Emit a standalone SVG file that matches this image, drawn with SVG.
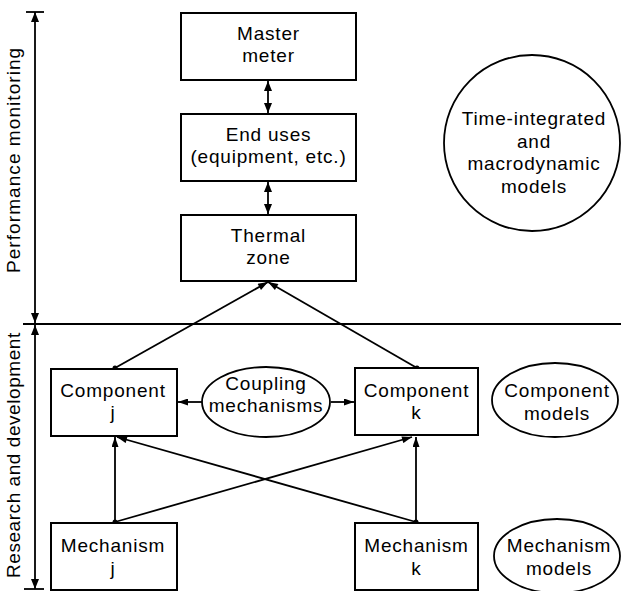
<svg xmlns="http://www.w3.org/2000/svg" width="621" height="591" viewBox="0 0 621 591">
<style>
  .box { fill: #fff; stroke: #000; stroke-width: 2; }
  .ell { fill: #fff; stroke: #000; stroke-width: 1.8; }
  .t { font-family: "Liberation Sans", Arial, sans-serif; font-size: 19px; letter-spacing: 0.8px; text-anchor: middle; fill: #000; }
  .ln { stroke: #000; stroke-width: 1.8; fill: none; }
  .ar { marker-end: url(#ah); }
  .dbl { marker-start: url(#ah2); marker-end: url(#ah2); }
  .dot { fill: #000; }
</style>
<defs>
  <marker id="ah" viewBox="0 0 10 7" markerUnits="userSpaceOnUse" markerWidth="11" markerHeight="7" refX="10" refY="3.5" orient="auto-start-reverse">
    <path d="M0,0 L10,3.5 L0,7 z" fill="#000"/>
  </marker>
  <marker id="ah2" viewBox="0 0 10 8" markerUnits="userSpaceOnUse" markerWidth="10" markerHeight="8" refX="10" refY="4" orient="auto-start-reverse">
    <path d="M0,0 L10,4 L0,8 z" fill="#000"/>
  </marker>
</defs>
<rect width="621" height="591" fill="#fff"/>

<g id="axis">
  <line class="ln dbl" x1="35" y1="12" x2="35" y2="323"/>
  <line class="ln" x1="26" y1="12" x2="44" y2="12"/>
  <line class="ln dbl" x1="35" y1="325" x2="35" y2="589"/>
  <line class="ln" x1="24" y1="589" x2="44" y2="589"/>
  <line class="ln" x1="23" y1="324" x2="621" y2="324"/>
  <text class="t" transform="translate(20,160) rotate(-90)" textLength="226" lengthAdjust="spacing">Performance monitoring</text>
  <text class="t" transform="translate(20,455) rotate(-90)" textLength="246" lengthAdjust="spacing">Research and development</text>
</g>

<g id="connectors">
  <line class="ln dbl" x1="268" y1="81" x2="268" y2="113"/>
  <line class="ln dbl" x1="268" y1="182" x2="268" y2="214"/>
  <line class="ln ar" x1="115" y1="368" x2="268" y2="282"/>
  <line class="ln ar" x1="417" y1="368" x2="268" y2="282"/>
  <line class="ln ar" x1="202" y1="402" x2="178" y2="402"/>
  <line class="ln ar" x1="331" y1="402" x2="354" y2="402"/>
  <line class="ln ar" x1="115" y1="522" x2="115" y2="437"/>
  <line class="ln ar" x1="115" y1="522" x2="412" y2="437"/>
  <line class="ln ar" x1="416" y1="522" x2="416" y2="437"/>
  <line class="ln ar" x1="416" y1="522" x2="117" y2="437"/>
  <circle class="dot" cx="115" cy="368" r="2.5"/>
  <circle class="dot" cx="417" cy="368" r="2.5"/>
  <circle class="dot" cx="115" cy="522" r="2.5"/>
  <circle class="dot" cx="416" cy="522" r="2.5"/>
</g>

<g id="master-meter">
  <rect class="box" x="181" y="13" width="175" height="67"/>
  <text class="t" x="268.5" y="40">Master</text>
  <text class="t" x="268.5" y="62">meter</text>
</g>
<g id="end-uses">
  <rect class="box" x="181" y="114" width="175" height="67"/>
  <text class="t" x="268.5" y="141">End uses</text>
  <text class="t" x="268.5" y="163">(equipment, etc.)</text>
</g>
<g id="thermal-zone">
  <rect class="box" x="181" y="215" width="175" height="66"/>
  <text class="t" x="268.5" y="242">Thermal</text>
  <text class="t" x="268.5" y="264">zone</text>
</g>
<g id="time-integrated">
  <circle class="ell" cx="532" cy="143" r="88"/>
  <text class="t" x="534" y="125">Time-integrated</text>
  <text class="t" x="534" y="148">and</text>
  <text class="t" x="534" y="170">macrodynamic</text>
  <text class="t" x="534" y="193">models</text>
</g>
<g id="component-j">
  <rect class="box" x="51" y="369" width="126" height="67"/>
  <text class="t" x="113" y="397">Component</text>
  <text class="t" x="113" y="419">j</text>
</g>
<g id="coupling">
  <ellipse class="ell" cx="266" cy="402" rx="64" ry="35"/>
  <text class="t" x="266" y="390">Coupling</text>
  <text class="t" x="266" y="412">mechanisms</text>
</g>
<g id="component-k">
  <rect class="box" x="355" y="368" width="123" height="67"/>
  <text class="t" x="416.5" y="397">Component</text>
  <text class="t" x="416.5" y="419">k</text>
</g>
<g id="component-models">
  <ellipse class="ell" cx="555" cy="400" rx="63" ry="37"/>
  <text class="t" x="557" y="397">Component</text>
  <text class="t" x="557" y="420">models</text>
</g>
<g id="mechanism-j">
  <rect class="box" x="51" y="523" width="126" height="67"/>
  <text class="t" x="113" y="552">Mechanism</text>
  <text class="t" x="113" y="575">j</text>
</g>
<g id="mechanism-k">
  <rect class="box" x="355" y="523" width="123" height="67"/>
  <text class="t" x="416.5" y="552">Mechanism</text>
  <text class="t" x="416.5" y="575">k</text>
</g>
<g id="mechanism-models">
  <ellipse class="ell" cx="557" cy="556" rx="63" ry="37"/>
  <text class="t" x="559" y="552">Mechanism</text>
  <text class="t" x="559" y="575">models</text>
</g>
</svg>
